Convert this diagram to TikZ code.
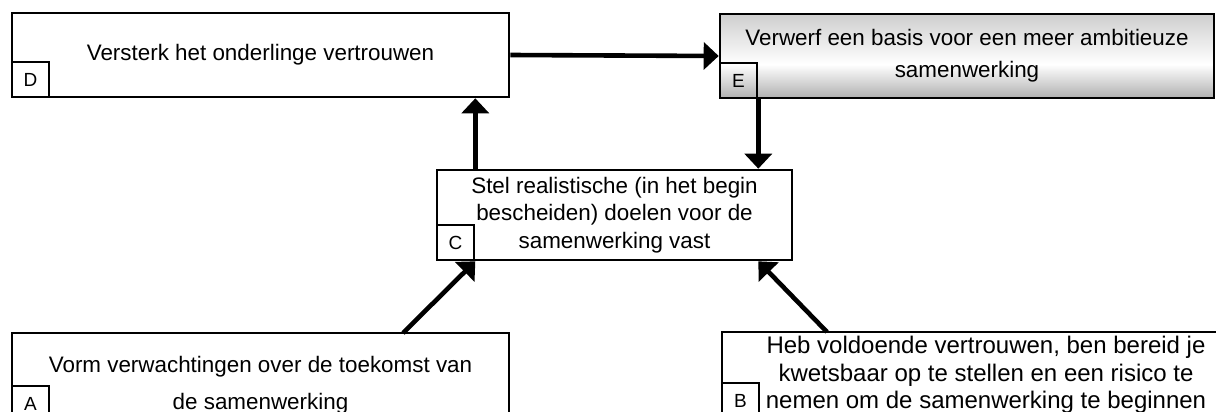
\documentclass[tikz,border=0pt]{standalone}
\usepackage{fontspec}
\setmainfont{Liberation Sans}
\usepackage{tikz}
\usetikzlibrary{arrows.meta}
\tikzset{>={Triangle[width=13.5pt,length=7.5pt]}}
\pgfdeclareverticalshading{eshade}{100bp}{color(0bp)=(gray!62); color(25bp)=(gray!62); color(45bp)=(white); color(75bp)=(gray!38); color(100bp)=(gray!38)}

\begin{document}
\begin{tikzpicture}[x=0.5pt, y=-0.5pt,
        box/.style={draw, line width=1.3pt, align=center, inner sep=0pt},
        txt/.style={align=center, inner sep=0pt},
        tag/.style={draw, line width=1.3pt, anchor=south west, minimum width=18.5pt, minimum height=17.5pt, inner sep=0pt, font=\fontsize{9.5}{10}\selectfont},
        link/.style={->, line width=2.3pt}]
            \clip (0, 0) rectangle (1216, 412);

            \node [box, minimum width=248.5pt, minimum height=42pt, font=\fontsize{11.2}{13.5}\selectfont] (D) at (260.5, 55) {Versterk het onderlinge vertrouwen};
            \node [box, shading=eshade, minimum width=247pt, minimum height=42pt, font=\fontsize{11.2}{16}\selectfont] (E) at (967, 56) {Verwerf een basis voor een meer ambitieuze\\samenwerking};
            \node [box, minimum width=177.5pt, minimum height=45pt, font=\fontsize{11.2}{13.75}\selectfont] (C) at (614.5, 215) {Stel realistische (in het begin\\bescheiden) doelen voor de\\samenwerking vast};
            \node [box, minimum width=248.5pt, minimum height=44pt] (A) at (260.5, 377) {};
            \node [txt, font=\fontsize{11.2}{18.5}\selectfont] (tA) at (260.5, 385) {Vorm verwachtingen over de toekomst van\\de samenwerking};
            \node [box, minimum width=264pt, minimum height=43pt, font=\fontsize{12}{13.75}\selectfont] (B) at (986, 375) {Heb voldoende vertrouwen, ben bereid je\\kwetsbaar op te stellen en een risico te\\nemen om de samenwerking te beginnen};

            \node [tag] (lD) at (D.south west) {D};
            \node [tag] (lE) at (E.south west) {E};
            \node [tag] (lC) at (C.south west) {C};
            \node [tag] (lA) at (A.south west) {A};
            \node [tag] (lB) at (B.south west) {B};

            \coordinate (pA) at (403, 333);
            \coordinate (pB) at (827, 332);

            \draw [link] (D.east) -- (E.west);
            \draw [link] (lC.east |- C.north) -- (lC.east |- D.south);
            \draw [link] (lE.east |- E.south) -- (lE.east |- C.north);
            \draw [link] (pA) -- (lC.south east);
            \draw [link] (pB) -- (lE.east |- C.south);
        \end{tikzpicture}
\end{document}
